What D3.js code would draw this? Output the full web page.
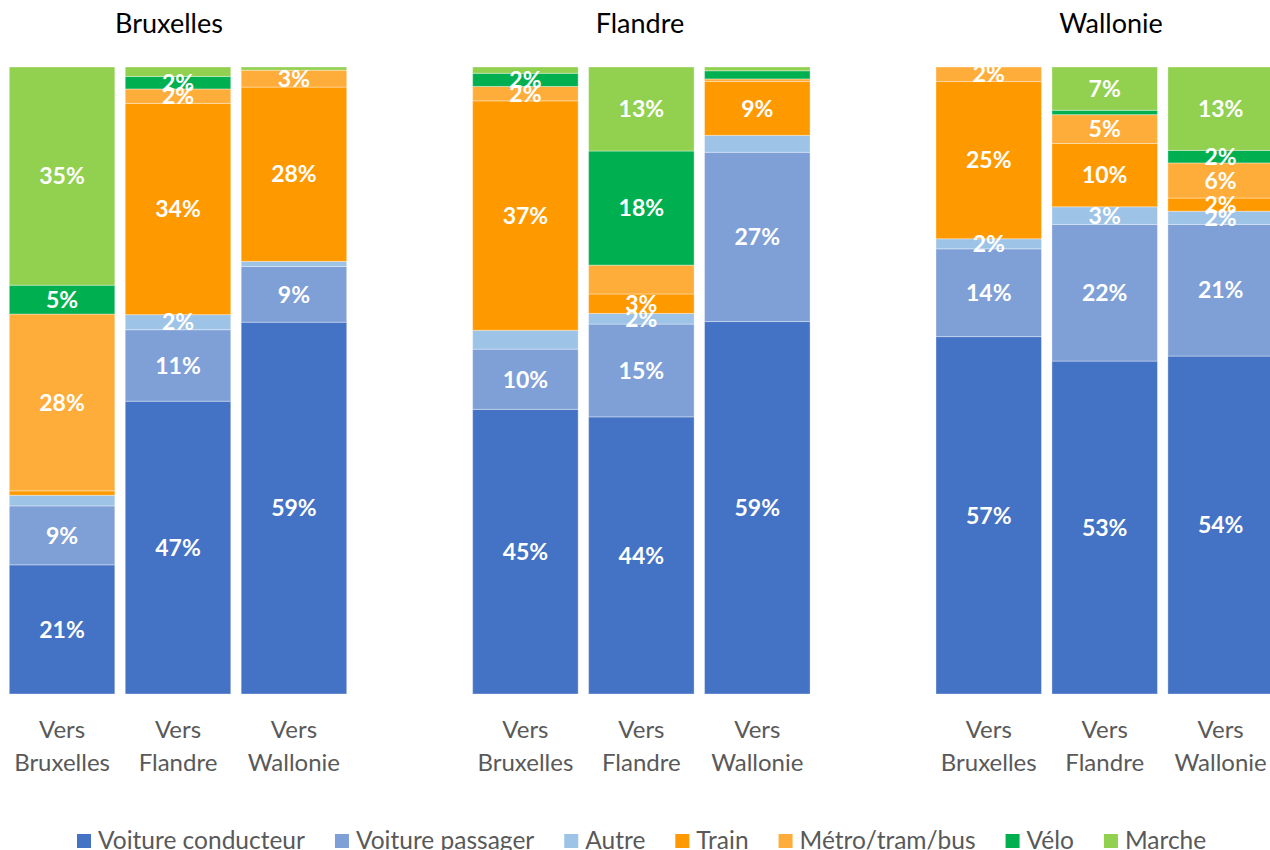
<!DOCTYPE html>
<html>
<head>
<meta charset="utf-8">
<script src="https://cdn.jsdelivr.net/npm/d3@7"></script>
<style>
  body { margin: 0; background: #fff; }
  svg { display: block; }
  text { font-family: Lato, "Open Sans", sans-serif; }
</style>
</head>
<body>
<svg id="chart" width="1270" height="850"></svg>
<script>
// Origin regions (one panel each) and destinations (one bar each)
const regions = ["Bruxelles", "Flandre", "Wallonie"];
const destinations = ["Vers Bruxelles", "Vers Flandre", "Vers Wallonie"];
const modes = ["Voiture conducteur", "Voiture passager", "Autre", "Train", "Métro/tram/bus", "Vélo", "Marche"];

// Modal shares (%) per bar: Bruxelles ×3, Flandre ×3, Wallonie ×3
const voitureConducteur = [20.6, 46.7, 59.3, 45.4, 44.2, 59.4, 57.0, 53.1, 53.9];
const voiturePassager   = [ 9.4, 11.4,  8.9,  9.6, 14.8, 27.0, 14.0, 21.8, 21.0];
const autre             = [ 1.7,  2.4,  0.8,  3.0,  1.7,  2.7,  1.6,  2.8,  2.1];
const train             = [ 0.7, 33.7, 27.8, 36.6,  3.1,  8.6, 25.1, 10.1,  2.1];
const metroTramBus      = [28.2,  2.3,  2.7,  2.3,  4.6,  0.4,  2.3,  4.6,  5.6];
const velo              = [ 4.6,  2.0,  0.0,  2.1, 18.2,  1.3,  0.0,  0.7,  2.0];
const marche            = [34.8,  1.5,  0.5,  1.0, 13.4,  0.6,  0.0,  6.9, 13.3];

// Which segments carry a value label
const labelVoitureConducteur = [1, 1, 1, 1, 1, 1, 1, 1, 1];
const labelVoiturePassager   = [1, 1, 1, 1, 1, 1, 1, 1, 1];
const labelAutre             = [0, 1, 0, 0, 1, 0, 1, 1, 1];
const labelTrain             = [0, 1, 1, 1, 1, 1, 1, 1, 1];
const labelMetroTramBus      = [1, 1, 1, 1, 0, 0, 1, 1, 1];
const labelVelo              = [1, 1, 0, 1, 1, 0, 0, 0, 1];
const labelMarche            = [1, 0, 0, 0, 1, 0, 0, 1, 1];

const seriesValues = [voitureConducteur, voiturePassager, autre, train, metroTramBus, velo, marche];
const seriesLabels = [labelVoitureConducteur, labelVoiturePassager, labelAutre, labelTrain, labelMetroTramBus, labelVelo, labelMarche];
const colors = ["#4472C4", "#7F9FD7", "#9DC3E6", "#FF9900", "#FFAD3A", "#00B050", "#92D050"];

// One row per bar for d3.stack
const rows = [];
regions.forEach((r, ri) => destinations.forEach((d, di) => {
  const i = ri * destinations.length + di;
  const row = { region: r, dest: d, idx: i };
  modes.forEach((m, mi) => { row[m] = seriesValues[mi][i]; });
  rows.push(row);
}));

const stacked = d3.stack().keys(modes)(rows);

const svg = d3.select("#chart");

const y = d3.scaleLinear().domain([0, 100]).range([694, 67]);
const xRegion = d3.scaleBand().domain(regions).range([9.3, 1273.4]).paddingInner(0.2718).paddingOuter(0);
const xDest = d3.scaleBand().domain(destinations).range([0, xRegion.bandwidth()]).paddingInner(0.09).paddingOuter(0);
const color = d3.scaleOrdinal().domain(modes).range(colors);

const barX = row => xRegion(row.region) + xDest(row.dest);

// Stacked segments
const layers = svg.append("g").selectAll("g.layer")
  .data(stacked).join("g")
  .attr("class", "layer")
  .attr("fill", s => color(s.key));

layers.selectAll("rect")
  .data(s => s.filter(d => d[1] - d[0] > 0))
  .join("rect")
  .attr("x", d => barX(d.data))
  .attr("width", xDest.bandwidth())
  .attr("y", d => y(d[1]))
  .attr("height", d => y(d[0]) - y(d[1]))
  .attr("stroke", "#ffffff")
  .attr("stroke-opacity", 0.35)
  .attr("stroke-width", 1);

// Value labels, centred in their segments
const fmt = v => Math.round(v) + "%";
const labelGroup = svg.append("g");
stacked.forEach((s, mi) => {
  s.forEach(d => {
    if (!seriesLabels[mi][d.data.idx]) return;
    labelGroup.append("text")
      .attr("x", barX(d.data) + xDest.bandwidth() / 2)
      .attr("y", (y(d[0]) + y(d[1])) / 2)
      .attr("dy", "0.36em")
      .attr("text-anchor", "middle")
      .attr("fill", "#ffffff")
      .attr("font-weight", "bold")
      .attr("font-size", 23)
      .text(fmt(d.data[s.key]));
  });
});

// Destination axes under each panel, two-line tick labels
const titleX = [169, 640, 1111];
regions.forEach((r, ri) => {
  const axis = d3.axisBottom(xDest).tickSize(0).tickPadding(0);
  const g = svg.append("g")
    .attr("transform", `translate(${xRegion(r)},${694})`)
    .call(axis);
  g.select(".domain").remove();
  g.selectAll(".tick text").each(function(d) {
    const t = d3.select(this);
    const parts = d.split(" ");
    t.text(null)
      .attr("y", 0).attr("dy", null)
      .attr("fill", "#595959")
      .attr("font-size", 24)
      .attr("font-family", "Lato, 'Open Sans', sans-serif");
    parts.forEach((p, k) => {
      t.append("tspan").attr("x", 0).attr("y", 44 + k * 33).text(p);
    });
  });

  // Panel title
  svg.append("text")
    .attr("x", titleX[ri])
    .attr("y", 33)
    .attr("text-anchor", "middle")
    .attr("fill", "#000000")
    .attr("font-size", 27)
    .text(r);
});

// Legend
const legend = svg.append("g");
let lx = 77;
modes.forEach((m, mi) => {
  legend.append("rect")
    .attr("x", lx).attr("y", 834)
    .attr("width", 14).attr("height", 14)
    .attr("fill", color(m));
  const t = legend.append("text")
    .attr("x", lx + 21).attr("y", 849)
    .attr("fill", "#595959")
    .attr("font-size", 24.5)
    .text(m);
  lx += 21 + t.node().getComputedTextLength() + 30;
});
</script>
</body>
</html>
